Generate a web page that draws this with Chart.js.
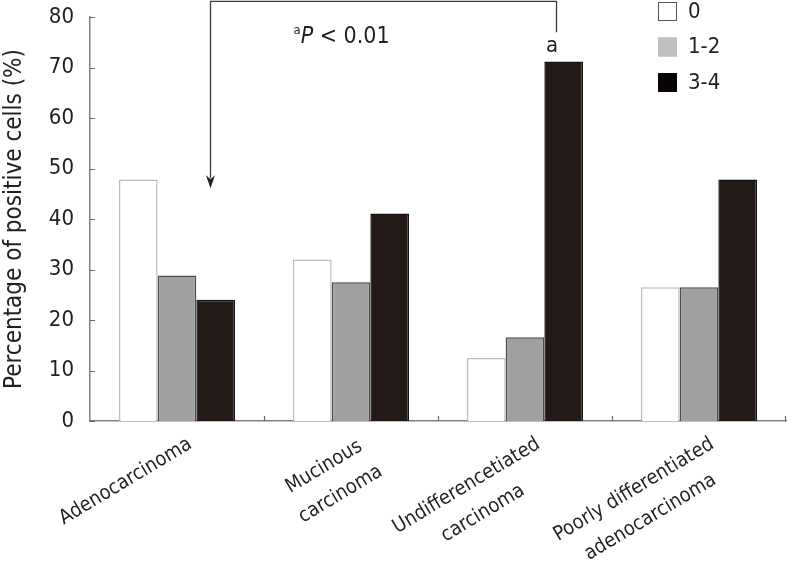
<!DOCTYPE html>
<html lang="en">
<head>
    <meta charset="UTF-8">
    <title>Positive cells by tumour type</title>
    <style>
        html, body { margin: 0; padding: 0; background: #fff; }
        .wrap { width: 787px; height: 561px; position: relative; }
    </style>
</head>
<body>
    <div class="wrap">
        <canvas id="myChart"></canvas>
    </div>
    <script src="https://cdn.jsdelivr.net/npm/chart.js@4.4.1/dist/chart.umd.min.js"></script>
    <script>
        // data
        const categories = [
            ['Adenocarcinoma'],
            ['Mucinous', 'carcinoma'],
            ['Undifferencetiated', 'carcinoma'],
            ['Poorly differentiated', 'adenocarcinoma']
        ];
        const seriesNames = ['0', '1-2', '3-4'];
        const score0 = [47.8, 32.0, 12.5, 26.5];
        const score12 = [28.8, 27.5, 16.6, 26.5];
        const score34 = [24.0, 41.1, 71.2, 47.8];
        const yMin = 0, yMax = 80, yStep = 10;

        const FONT = "'DejaVu Sans Condensed', 'DejaVu Sans', sans-serif";
        const INK = '#231f20';
        Chart.defaults.font.family = FONT;
        Chart.defaults.color = INK;

        let ctx = document.getElementById('myChart').getContext('2d');

        // inner tick marks, rotated labels, legend and the significance bracket
        const decor = {
            id: 'decor',
            afterDraw(chart) {
                const c = chart.ctx;
                const area = chart.chartArea;
                const xs = chart.scales.x;
                const ys = chart.scales.y;
                c.save();

                // tick marks pointing into the plot
                c.strokeStyle = '#666';
                c.lineWidth = 1.2;
                c.beginPath();
                ys.ticks.forEach(t => {
                    const y = Math.round(ys.getPixelForValue(t.value)) + 0.5;
                    c.moveTo(area.left, y);
                    c.lineTo(area.left + 5, y);
                });
                for (let i = 1; i <= categories.length; i++) {
                    let x = i < categories.length
                        ? (xs.getPixelForValue(i - 1) + xs.getPixelForValue(i)) / 2
                        : area.right - 1;
                    x = Math.round(x) + 0.5;
                    c.moveTo(x, area.bottom);
                    c.lineTo(x, area.bottom - 5);
                }
                c.stroke();

                // rotated category labels, lines centred
                const ang = -31 * Math.PI / 180;
                const lh = 32;
                c.font = 'normal 20px ' + FONT;
                c.fillStyle = INK;
                c.textAlign = 'center';
                c.textBaseline = 'middle';
                categories.forEach((lines, i) => {
                    const w = Math.max(...lines.map(s => c.measureText(s).width));
                    c.save();
                    c.translate(xs.getPixelForValue(i) + 5, area.bottom + 8);
                    c.rotate(ang);
                    lines.forEach((s, k) => c.fillText(s, -w / 2, k * lh + lh / 2));
                    c.restore();
                });

                // legend
                const lgFill = ['#ffffff', '#c0c0c0', '#080404'];
                const lgLine = ['#555555', '#c0c0c0', '#080404'];
                c.font = 'normal 22px ' + FONT;
                c.textAlign = 'left';
                chart.data.datasets.forEach((ds, i) => {
                    const bx = 658, by = 2 + i * 35.5;
                    c.fillStyle = lgFill[i];
                    c.fillRect(bx, by, 19, 19);
                    c.strokeStyle = lgLine[i];
                    c.lineWidth = 1;
                    c.strokeRect(bx + 0.5, by + 0.5, 18, 18);
                    c.fillStyle = INK;
                    c.fillText(ds.label, 688, by + 10);
                });

                // bracket with arrow: Undifferentiated 3-4 vs Adenocarcinoma
                const xl = Math.round(xs.getPixelForValue(0) + 33) + 0.5;
                const xr = Math.round(xs.getPixelForValue(2) + 31) + 0.5;
                const yTop = ys.getPixelForValue(83.1);
                const yTip = ys.getPixelForValue(46.1);
                const yRight = ys.getPixelForValue(77.0);
                c.strokeStyle = '#3a3a3a';
                c.lineWidth = 1.3;
                c.beginPath();
                c.moveTo(xl, yTip - 10);
                c.lineTo(xl, yTop);
                c.lineTo(xr, yTop);
                c.lineTo(xr, yRight);
                c.stroke();
                c.fillStyle = '#231f20';
                c.beginPath();
                c.moveTo(xl - 4.5, yTip - 13);
                c.lineTo(xl, yTip - 9);
                c.lineTo(xl + 4.5, yTip - 13);
                c.lineTo(xl, yTip);
                c.closePath();
                c.fill();

                // "a" over the bar and the P value
                c.fillStyle = INK;
                c.textBaseline = 'alphabetic';
                c.textAlign = 'center';
                c.font = 'normal 22px ' + FONT;
                c.fillText('a', xs.getPixelForValue(2) + 27, 52);
                c.textAlign = 'left';
                let tx = xl + 83;
                c.font = 'normal 13px ' + FONT;
                c.fillText('a', tx, 34);
                tx += c.measureText('a').width;
                c.font = 'italic 23px ' + FONT;
                c.fillText('P', tx, 43);
                tx += c.measureText('P').width;
                c.font = 'normal 23px ' + FONT;
                c.fillText(' < 0.01', tx, 43);

                c.restore();
            }
        };

        var chart = new Chart(ctx, {
            type: 'bar',
            data: {
                labels: categories,
                datasets: [{
                    label: seriesNames[0],
                    data: score0,
                    backgroundColor: '#ffffff',
                    borderColor: '#bdbdbd',
                    borderWidth: 1.5
                }, {
                    label: seriesNames[1],
                    data: score12,
                    backgroundColor: '#a0a0a0',
                    borderColor: '#4a4a4a',
                    borderWidth: 1.5
                }, {
                    label: seriesNames[2],
                    data: score34,
                    backgroundColor: '#231a17',
                    borderColor: '#111111',
                    borderWidth: 1.5
                }]
            },
            options: {
                responsive: true,
                maintainAspectRatio: false,
                animation: false,
                layout: { padding: { top: 17, right: 1, left: 0, bottom: 0 } },
                datasets: { bar: { categoryPercentage: 0.667, barPercentage: 1.0 } },
                plugins: { legend: { display: false }, tooltip: { enabled: false } },
                scales: {
                    x: {
                        offset: true,
                        grid: { display: false },
                        ticks: { display: false },
                        border: { display: true, color: '#808080', width: 1.5 },
                        afterFit: s => { s.height = 140; }
                    },
                    y: {
                        min: yMin,
                        max: yMax,
                        grid: { display: false },
                        border: { display: true, color: '#808080', width: 1.5 },
                        ticks: { stepSize: yStep, padding: 8, font: { size: 22 }, color: INK },
                        title: {
                            display: true,
                            text: 'Percentage of positive cells (%)',
                            font: { size: 24 },
                            color: INK,
                            padding: 0
                        },
                        afterFit: s => {
                            s.width = 90;
                            s.paddingTop = 0;
                            s.paddingBottom = 0;
                        }
                    }
                }
            },
            plugins: [decor]
        });
    </script>
</body>
</html>
